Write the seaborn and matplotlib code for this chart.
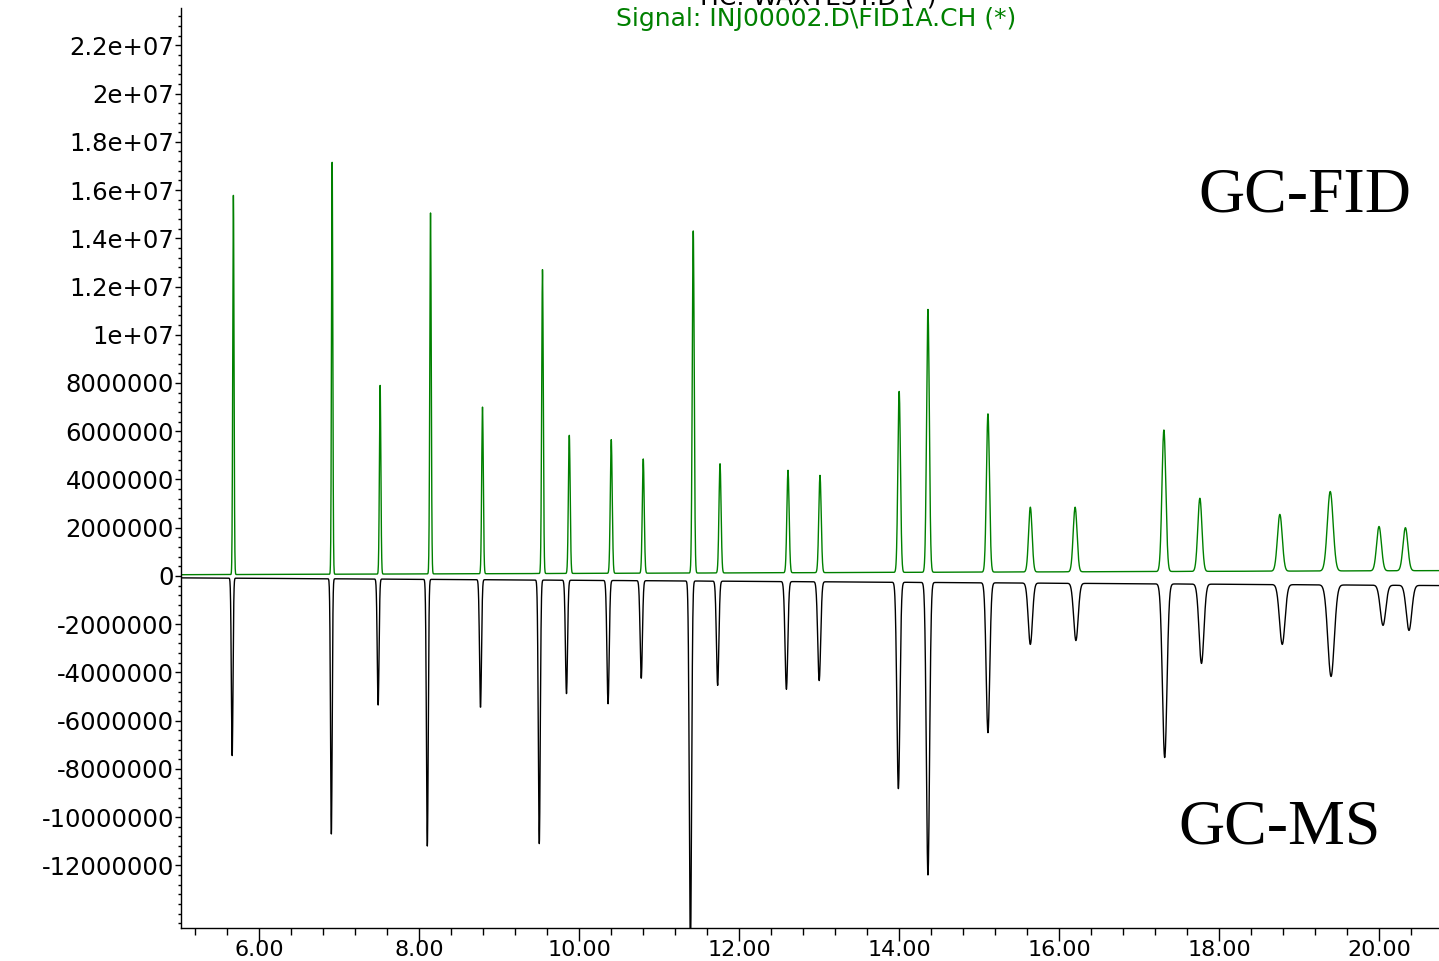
import numpy as np
import pandas as pd
import matplotlib
matplotlib.use("Agg")
import matplotlib.pyplot as plt
import seaborn as sns
from matplotlib.ticker import FixedLocator, FixedFormatter, MultipleLocator

# ---------------- data ----------------
# GC-FID peaks (upper, green trace)
fid_rt = [5.675, 6.91, 7.51, 8.14, 8.79, 9.54, 9.875, 10.40, 10.80, 11.425, 11.76, 12.61,
          13.01, 14.00, 14.36, 15.11, 15.64, 16.20, 17.31, 17.76, 18.76, 19.39, 20.00, 20.33]
fid_top = [15.9e6, 17.15e6, 7.9e6, 15.05e6, 7.0e6, 12.7e6, 5.85e6, 5.65e6, 4.85e6, 14.35e6,
           4.65e6, 4.38e6, 4.17e6, 7.65e6, 11.05e6, 6.72e6, 2.85e6, 2.85e6, 6.05e6, 3.22e6,
           2.55e6, 3.5e6, 2.05e6, 2.0e6]
fid_sigma = [0.008, 0.008, 0.009, 0.009, 0.010, 0.010, 0.011, 0.012, 0.012, 0.012, 0.013,
             0.014, 0.015, 0.016, 0.017, 0.019, 0.022, 0.024, 0.024, 0.026, 0.030, 0.036,
             0.030, 0.030]

# GC-MS peaks (lower, black trace, drawn inverted)
ms_rt = [5.66, 6.90, 7.485, 8.10, 8.765, 9.50, 9.84, 10.36, 10.775, 11.39, 11.73, 12.59,
         13.00, 13.99, 14.36, 15.11, 15.64, 16.21, 17.32, 17.78, 18.79, 19.40, 20.05, 20.375]
ms_bottom = [-7.45e6, -10.7e6, -5.37e6, -11.2e6, -5.46e6, -11.1e6, -4.88e6, -5.3e6, -4.25e6,
             -15.5e6, -4.54e6, -4.7e6, -4.34e6, -8.82e6, -12.4e6, -6.5e6, -2.84e6, -2.68e6,
             -7.53e6, -3.63e6, -2.84e6, -4.17e6, -2.05e6, -2.26e6]
ms_sigma = [0.010, 0.010, 0.011, 0.011, 0.012, 0.012, 0.013, 0.014, 0.014, 0.014, 0.015,
            0.017, 0.018, 0.019, 0.020, 0.022, 0.026, 0.028, 0.028, 0.030, 0.034, 0.040,
            0.034, 0.034]

# baseline drift (start / end of run)
baseline_rt = [5.0, 20.75]
fid_baseline = [0.05e6, 0.22e6]
ms_baseline = [-0.08e6, -0.40e6]

x_ticks = [6, 8, 10, 12, 14, 16, 18, 20]
x_tick_labels = ["6.00", "8.00", "10.00", "12.00", "14.00", "16.00", "18.00", "20.00"]
y_ticks = [-12e6, -10e6, -8e6, -6e6, -4e6, -2e6, 0, 2e6, 4e6, 6e6, 8e6, 10e6, 12e6, 14e6,
           16e6, 18e6, 20e6, 22e6]
y_tick_labels = ["-12000000", "-10000000", "-8000000", "-6000000", "-4000000", "-2000000",
                 "0", "2000000", "4000000", "6000000", "8000000", "1e+07", "1.2e+07",
                 "1.4e+07", "1.6e+07", "1.8e+07", "2e+07", "2.2e+07"]

title_tic = "TIC: WAXTEST.D (*)"
title_sig = "Signal: INJ00002.D\\FID1A.CH (*)"

# ---------------- build traces ----------------
t = np.arange(5.0, 20.76, 0.002)

def trace(rts, tops, sigmas, base_vals):
    base = np.interp(t, baseline_rt, base_vals)
    y = base.copy()
    for rt, top, s in zip(rts, tops, sigmas):
        amp = top - np.interp(rt, baseline_rt, base_vals)
        y += amp * np.exp(-0.5 * ((t - rt) / s) ** 2)
    return y

fid = trace(fid_rt, fid_top, fid_sigma, fid_baseline)
ms = trace(ms_rt, ms_bottom, ms_sigma, ms_baseline)

df = pd.concat([
    pd.DataFrame({"time": t, "abundance": ms, "signal": "GC-MS"}),
    pd.DataFrame({"time": t, "abundance": fid, "signal": "GC-FID"}),
])

# ---------------- plot ----------------
sns.set_style("ticks")
plt.rcParams["font.family"] = ["DejaVu Sans"]

fig = plt.figure(figsize=(14.39, 9.61), dpi=100)
ax = fig.add_axes([181 / 1439, 1 - 928 / 961, 1 - 181 / 1439, (928 - 8) / 961])

sns.lineplot(data=df, x="time", y="abundance", hue="signal",
             palette={"GC-MS": "black", "GC-FID": "#008000"},
             linewidth=1.0, legend=False, ax=ax, sort=False, estimator=None)

ax.set_xlim(5.02, 20.75)
ax.set_ylim(-14.6e6, 23.55e6)

ax.xaxis.set_major_locator(FixedLocator(x_ticks))
ax.xaxis.set_major_formatter(FixedFormatter(x_tick_labels))
ax.xaxis.set_minor_locator(MultipleLocator(0.4))
ax.yaxis.set_major_locator(FixedLocator(y_ticks))
ax.yaxis.set_major_formatter(FixedFormatter(y_tick_labels))
ax.yaxis.set_minor_locator(MultipleLocator(4e5))

ax.set_xlabel("")
ax.set_ylabel("")
for s in ["top", "right"]:
    ax.spines[s].set_visible(False)
for s in ["left", "bottom"]:
    ax.spines[s].set_linewidth(1.0)
    ax.spines[s].set_color("black")

ax.tick_params(axis="x", which="major", direction="out", length=9, width=1,
               labelsize=16, pad=0, colors="black")
ax.tick_params(axis="x", which="minor", direction="out", length=5, width=1, colors="black")
ax.tick_params(axis="y", which="major", direction="out", length=4, width=1,
               labelsize=17.5, pad=1, colors="black")
ax.tick_params(axis="y", which="minor", direction="out", length=2, width=1, colors="black")

fig.text(1305 / 1439, 1 - 197 / 961, "GC-FID", family="Liberation Serif", fontsize=46,
         ha="center", va="center", color="black")
fig.text(1280 / 1439, 1 - 828 / 961, "GC-MS", family="Liberation Serif", fontsize=46,
         ha="center", va="center", color="black")

fig.text(816 / 1439, 1 - 4 / 961, title_tic, fontsize=18, ha="center", va="baseline",
         color="black")
fig.text(816 / 1439, 1 - 26 / 961, title_sig, fontsize=18, ha="center", va="baseline",
         color="#008000")

fig.savefig("out.png", dpi=100)
